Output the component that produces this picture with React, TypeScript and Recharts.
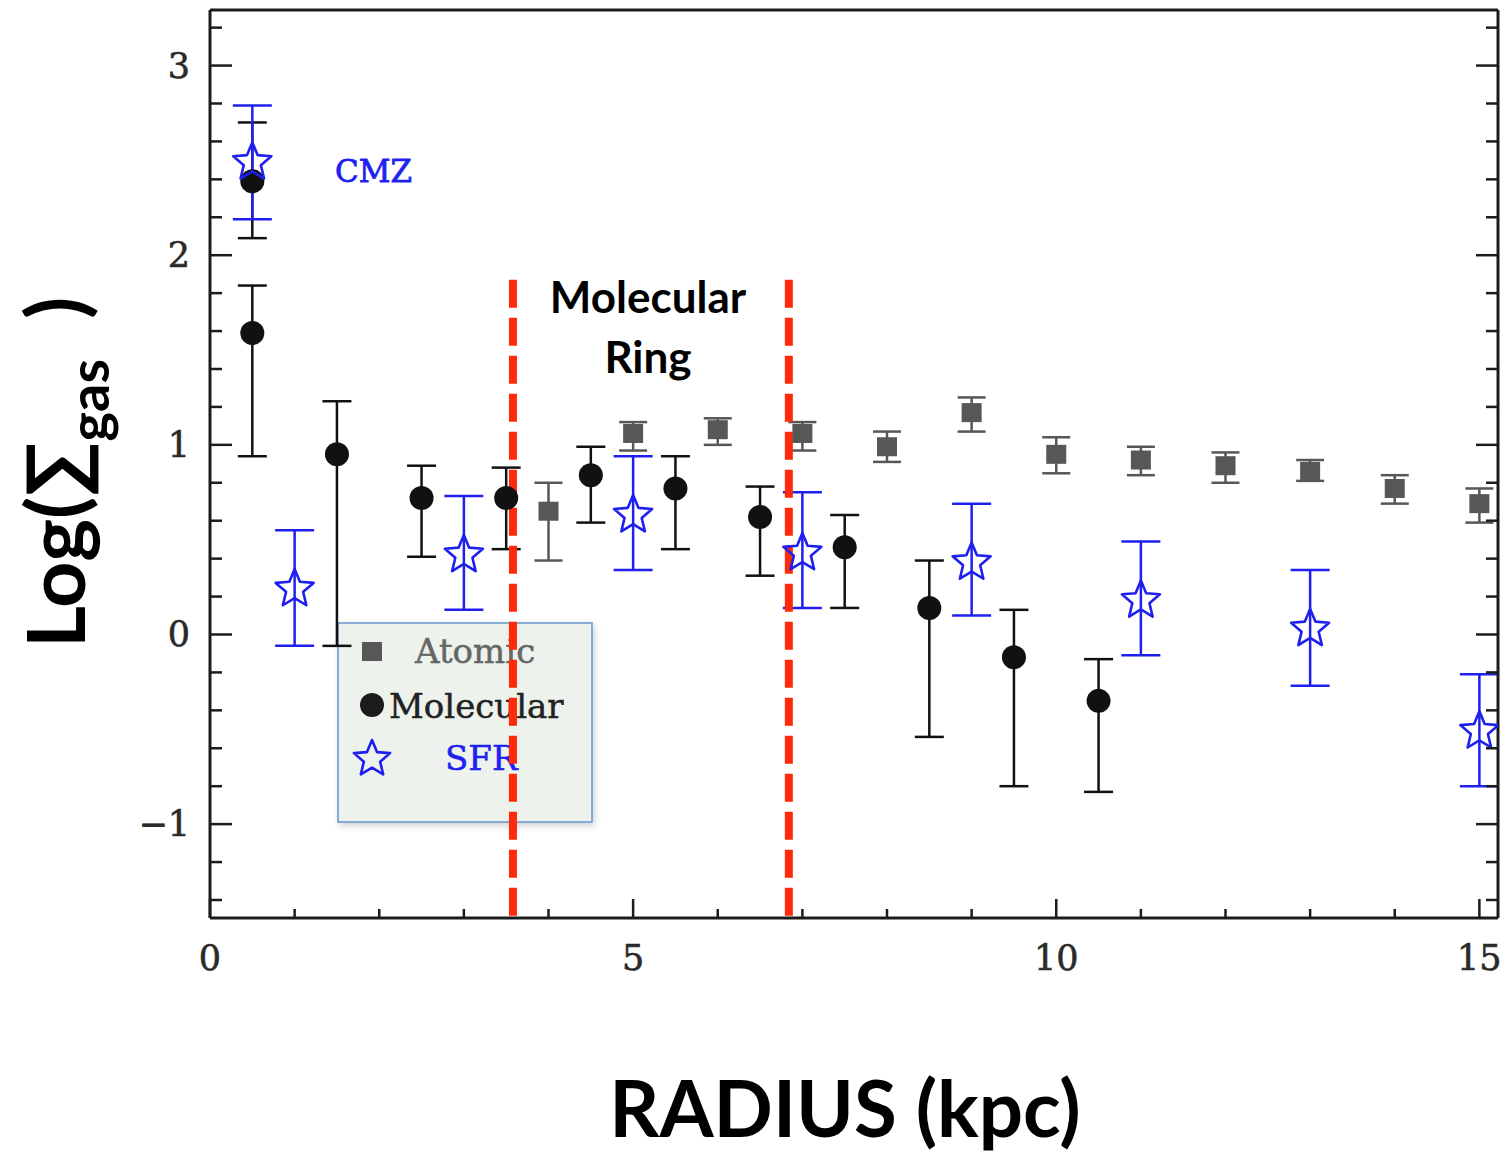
import React from 'react'
import {
  ErrorBar,
  ReferenceLine,
  Scatter,
  ScatterChart,
  XAxis,
  YAxis,
  Customized,
} from 'recharts'

// Radial profiles of the Milky Way disk: atomic gas, molecular gas and SFR.
const RADIUS_ATOM = [4, 5, 6, 7, 8, 9, 10, 11, 12, 13, 14, 15]
const LOG_ATOM = [0.65, 1.06, 1.08, 1.06, 0.99, 1.17, 0.95, 0.92, 0.89, 0.86, 0.77, 0.69]
const ATOM_LO = [0.39, 0.97, 1.0, 0.97, 0.91, 1.07, 0.85, 0.84, 0.8, 0.81, 0.69, 0.59]
const ATOM_HI = [0.8, 1.12, 1.14, 1.12, 1.07, 1.25, 1.04, 0.99, 0.96, 0.92, 0.84, 0.77]

const RADIUS_MOL = [0.5, 0.5, 1.5, 2.5, 3.5, 4.5, 5.5, 6.5, 7.5, 8.5, 9.5, 10.5]
const LOG_MOL = [2.39, 1.59, 0.95, 0.72, 0.72, 0.84, 0.77, 0.62, 0.46, 0.14, -0.12, -0.35]
const MOL_LO = [2.09, 0.94, -0.06, 0.41, 0.45, 0.59, 0.45, 0.31, 0.14, -0.54, -0.8, -0.83]
const MOL_HI = [2.7, 1.84, 1.23, 0.89, 0.88, 0.99, 0.94, 0.78, 0.63, 0.39, 0.13, -0.13]

const RADIUS_SFR = [0.5, 1, 3, 5, 7, 9, 11, 13, 15]
const LOG_SFR = [2.5, 0.25, 0.43, 0.64, 0.44, 0.39, 0.19, 0.04, -0.5]
const SFR_LO = [2.19, -0.06, 0.13, 0.34, 0.14, 0.1, -0.11, -0.27, -0.8]
const SFR_HI = [2.79, 0.55, 0.73, 0.94, 0.75, 0.69, 0.49, 0.34, -0.21]

// dashed boundaries of the molecular ring (kpc) and the height they start at
const RING_EDGES = [3.58, 6.84]
const RING_TOP = 1.87

const X_TICKS = [0, 1, 2, 3, 4, 5, 6, 7, 8, 9, 10, 11, 12, 13, 14, 15]
const X_MAJOR = [0, 5, 10, 15]
const Y_TICKS = [-1.4, -1.2, -1, -0.8, -0.6, -0.4, -0.2, 0, 0.2, 0.4, 0.6, 0.8, 1, 1.2, 1.4, 1.6, 1.8, 2, 2.2, 2.4, 2.6, 2.8, 3, 3.2]
const X_DOMAIN: [number, number] = [0, 15.22]
const Y_DOMAIN: [number, number] = [-1.495, 3.293]

const INK = '#1c1c1c'
const TICK_TXT = '#2a2a2a'
const GRAY = '#575757'
const BLUE = '#1f1ff0'
const RED = '#ff2a0a'
const SERIF = '"DejaVu Serif", "Liberation Serif", serif'
const SANS = 'Lato, "Open Sans", "DejaVu Sans", sans-serif'

// the svg is pulled over the body margin so it starts at the page corner
const W = 1512
const H = 1153

const rows = (xs: number[], ys: number[], lo: number[], hi: number[]) =>
  xs.map((x, i) => ({ x, y: ys[i], err: [ys[i] - lo[i], hi[i] - ys[i]] }))

const atomic = rows(RADIUS_ATOM, LOG_ATOM, ATOM_LO, ATOM_HI)
const molecular = rows(RADIUS_MOL, LOG_MOL, MOL_LO, MOL_HI)
const sfr = rows(RADIUS_SFR, LOG_SFR, SFR_LO, SFR_HI)

const isInt = (v: number) => Math.abs(v - Math.round(v)) < 1e-6
const fmtY = (v: number) => (v < 0 ? `\u2212${Math.abs(Math.round(v))}` : `${Math.round(v)}`)

function starPoints(cx: number, cy: number, r: number) {
  const pts: string[] = []
  for (let k = 0; k < 10; k++) {
    const rad = k % 2 === 0 ? r : r * 0.45
    const a = -Math.PI / 2 + (k * Math.PI) / 5
    pts.push(`${cx + rad * Math.cos(a)},${cy + rad * Math.sin(a)}`)
  }
  return pts.join(' ')
}

const Square = ({ cx, cy }: any) => (
  <rect x={cx - 10} y={cy - 9.5} width={20} height={19} fill={GRAY} />
)
const Dot = ({ cx, cy }: any) => <circle cx={cx} cy={cy} r={12} fill="#111" />
const Star = ({ cx, cy }: any) => (
  <polygon points={starPoints(cx, cy + 2, 20)} fill="none" stroke={BLUE} strokeWidth={2.6} strokeLinejoin="round" />
)

// serif labels in the reference are heavier than DejaVu Serif regular
const labelStyle = { fontFamily: SERIF, fontSize: 35, stroke: TICK_TXT, strokeWidth: 0.6 }

// ticks point inward on all four sides; labels only on left / bottom
function LeftTick({ x, y, payload }: any) {
  const v = payload.value as number
  const major = isInt(v)
  return (
    <g>
      <line x1={x} x2={x + (major ? 22 : 12)} y1={y} y2={y} stroke={INK} strokeWidth={2.5} />
      {major && (
        <text x={x - 20} y={y + 12} textAnchor="end" fill={TICK_TXT} {...labelStyle}>
          {fmtY(v)}
        </text>
      )}
    </g>
  )
}
function RightTick({ x, y, payload }: any) {
  const major = isInt(payload.value)
  return <line x1={x} x2={x - (major ? 22 : 12)} y1={y} y2={y} stroke={INK} strokeWidth={2.5} />
}
function BottomTick({ x, y, payload }: any) {
  const v = payload.value as number
  const major = X_MAJOR.includes(v)
  return (
    <g>
      <line x1={x} x2={x} y1={y} y2={y - (major ? 19 : 9)} stroke={INK} strokeWidth={2.5} />
      {major && (
        <text x={x} y={y + 52} textAnchor="middle" fill={TICK_TXT} {...labelStyle}>
          {v}
        </text>
      )}
    </g>
  )
}
function TopTick({ x, y, payload }: any) {
  const major = X_MAJOR.includes(payload.value)
  return <line x1={x} x2={x} y1={y} y2={y + (major ? 19 : 9)} stroke={INK} strokeWidth={2.5} />
}

function LegendBox() {
  return (
    <g>
      <defs>
        <filter id="lgshadow" x="-10%" y="-10%" width="120%" height="120%">
          <feDropShadow dx="2" dy="3" stdDeviation="3" floodColor="#000" floodOpacity="0.18" />
        </filter>
      </defs>
      <rect x={338} y={623} width={254} height={199} fill="#edf2ed" stroke="#6b9bd0" strokeWidth={1.6} filter="url(#lgshadow)" />
      <rect x={362} y={642} width={20} height={19} fill={GRAY} />
      <text x={415} y={663} fontFamily={SERIF} fontSize={34} fill="#666" stroke="#666" strokeWidth={0.5}>Atomic</text>
      <circle cx={372} cy={705} r={12} fill="#1c1c1c" />
      <text x={389} y={718} fontFamily={SERIF} fontSize={34} fill="#222" stroke="#222" strokeWidth={0.5}>Molecular</text>
      <polygon points={starPoints(372, 759, 19)} fill="none" stroke={BLUE} strokeWidth={2.6} strokeLinejoin="round" />
      <text x={445} y={770} fontFamily={SERIF} fontSize={34} fill={BLUE} stroke={BLUE} strokeWidth={0.6}>SFR</text>
    </g>
  )
}

function Labels() {
  return (
    <g>
      <text x={335} y={182} fontFamily={SERIF} fontSize={31} fill={BLUE} stroke={BLUE} strokeWidth={0.8}>CMZ</text>
      <text x={648} y={313} textAnchor="middle" fontFamily={SANS} fontWeight={700} fontSize={44} fill="#000">Molecular</text>
      <text x={648} y={373} textAnchor="middle" fontFamily={SANS} fontWeight={700} fontSize={44} fill="#000">Ring</text>
      <text x={845} y={1137} textAnchor="middle" fontFamily={SANS} fontWeight={700} fontSize={78} fill="#000">
        RADIUS (kpc)
      </text>
      <text transform="rotate(-90 85 648)" x={85} y={648} fontFamily={SANS} fontWeight={700} fontSize={81} fill="#000">
        Log(∑
        <tspan fontSize={56} dy={24}>gas</tspan>
        <tspan dy={-24} dx={40}>)</tspan>
      </text>
    </g>
  )
}

export default function App() {
  return (
    <div style={{ width: W, height: H, margin: '-8px 0 0 -8px', background: '#fff' }}>
      <ScatterChart width={W} height={H} margin={{ top: 9, right: 13, bottom: 234, left: 209 }}>
        <XAxis
          dataKey="x"
          type="number"
          domain={X_DOMAIN}
          allowDataOverflow
          ticks={X_TICKS}
          interval={0}
          height={1}
          tickSize={0}
          tickMargin={0}
          tickLine={false}
          tick={<BottomTick />}
          axisLine={{ stroke: INK, strokeWidth: 3 }}
        />
        <XAxis
          xAxisId="top"
          orientation="top"
          type="number"
          domain={X_DOMAIN}
          allowDataOverflow
          ticks={X_TICKS}
          interval={0}
          height={1}
          tickSize={0}
          tickMargin={0}
          tickLine={false}
          tick={<TopTick />}
          axisLine={{ stroke: INK, strokeWidth: 3 }}
        />
        <YAxis
          dataKey="y"
          type="number"
          domain={Y_DOMAIN}
          allowDataOverflow
          ticks={Y_TICKS}
          interval={0}
          width={1}
          tickSize={0}
          tickMargin={0}
          tickLine={false}
          tick={<LeftTick />}
          axisLine={{ stroke: INK, strokeWidth: 3 }}
        />
        <YAxis
          yAxisId="right"
          orientation="right"
          type="number"
          domain={Y_DOMAIN}
          allowDataOverflow
          ticks={Y_TICKS}
          interval={0}
          width={1}
          tickSize={0}
          tickMargin={0}
          tickLine={false}
          tick={<RightTick />}
          axisLine={{ stroke: INK, strokeWidth: 3 }}
        />
        <Scatter name="Atomic" data={atomic} shape={<Square />} isAnimationActive={false}>
          <ErrorBar dataKey="err" direction="y" width={14} stroke={GRAY} strokeWidth={2.5} isAnimationActive={false} />
        </Scatter>
        <Scatter name="Molecular" data={molecular} shape={<Dot />} isAnimationActive={false}>
          <ErrorBar dataKey="err" direction="y" width={14.5} stroke="#111" strokeWidth={2.5} isAnimationActive={false} />
        </Scatter>
        <Scatter name="SFR" data={sfr} shape={<Star />} isAnimationActive={false}>
          <ErrorBar dataKey="err" direction="y" width={19.5} stroke={BLUE} strokeWidth={2.5} isAnimationActive={false} />
        </Scatter>
        <Customized component={<LegendBox />} />
        {RING_EDGES.map((r) => (
          <ReferenceLine
            key={r}
            segment={[
              { x: r, y: RING_TOP },
              { x: r, y: Y_DOMAIN[0] },
            ]}
            stroke={RED}
            strokeWidth={8}
            strokeDasharray="28 10"
            ifOverflow="visible"
          />
        ))}
        <Customized component={<Labels />} />
      </ScatterChart>
    </div>
  )
}
